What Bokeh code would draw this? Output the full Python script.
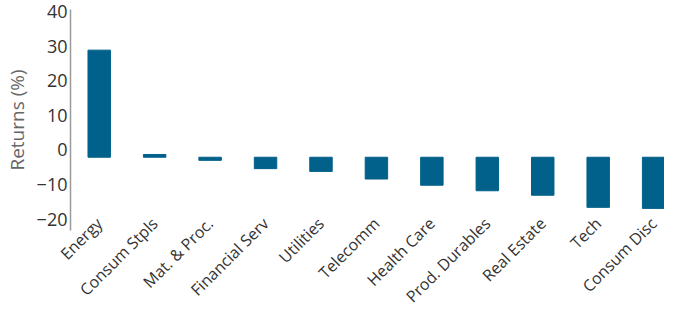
import numpy as np
from bokeh.plotting import figure
from bokeh.models import Range1d, FixedTicker
from bokeh.embed import file_html
from bokeh.resources import INLINE

categories = ["Energy", "Consum Stpls", "Mat. & Proc.", "Financial Serv", "Utilities",
              "Telecomm", "Health Care", "Prod. Durables", "Real Estate", "Tech", "Consum Disc"]
returns = [28.9, -1.3, -3.0, -5.4, -6.2, -8.4, -10.2, -11.8, -13.1, -16.6, -16.9]
baseline = -2.1
y_ticks = [-20, -10, 0, 10, 20, 30, 40]

x = np.arange(len(categories))

p = figure(width=664, height=317, output_backend="svg", toolbar_location=None,
           x_range=Range1d(-0.518, 10.196), y_range=Range1d(-23.3, 40.66),
           min_border_left=64, min_border_right=0, min_border_top=9, min_border_bottom=60)
p.outline_line_color = None
p.xgrid.visible = False
p.ygrid.visible = False

p.vbar(x=x, top=returns, bottom=baseline, width=0.405, color="#02618A")

p.yaxis.ticker = FixedTicker(ticks=y_ticks)
p.yaxis.axis_label = "Returns (%)"
p.yaxis.axis_label_text_font = "Open Sans"
p.yaxis.axis_label_text_font_style = "normal"
p.yaxis.axis_label_text_font_size = "19px"
p.yaxis.axis_label_text_color = "#666666"
p.yaxis.axis_label_standoff = 4
p.yaxis.major_label_text_font = "Open Sans"
p.yaxis.major_label_text_font_size = "18px"
p.yaxis.major_label_text_color = "#333333"
p.yaxis.major_tick_line_color = None
p.yaxis.minor_tick_line_color = None
p.yaxis.major_tick_out = 0
p.yaxis.major_tick_in = 0
p.yaxis.axis_line_color = "#9A9A9A"
p.yaxis.axis_line_width = 1.5
p.yaxis.major_label_standoff = 3

p.xaxis.ticker = FixedTicker(ticks=list(x))
p.xaxis.major_label_overrides = {int(i): c for i, c in zip(x, categories)}
p.xaxis.major_label_orientation = np.pi / 4
p.xaxis.major_label_text_font = "Open Sans"
p.xaxis.major_label_text_font_size = "16px"
p.xaxis.major_label_text_color = "#333333"
p.xaxis.major_tick_line_color = None
p.xaxis.minor_tick_line_color = None
p.xaxis.major_tick_out = 0
p.xaxis.major_tick_in = 0
p.xaxis.axis_line_color = None
p.xaxis.major_label_standoff = -10

open("out.html", "w").write(file_html(p, INLINE))
